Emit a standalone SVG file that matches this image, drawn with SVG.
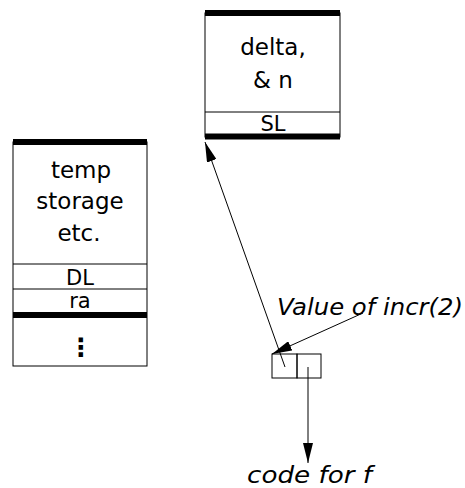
<svg xmlns="http://www.w3.org/2000/svg" width="465" height="488" viewBox="0 0 465 488">
<style>
.t{font-family:"DejaVu Sans","Liberation Sans",sans-serif;font-size:23px;fill:#000;text-anchor:middle}
.s{font-size:21px}
.i{font-family:"DejaVu Sans","Liberation Sans",sans-serif;font-style:italic;font-size:23px;fill:#000}
.thin{fill:none;stroke:#000;stroke-width:1}
.thick{fill:none;stroke:#000;stroke-width:6}
.c{fill:none;stroke:#000;stroke-width:1}
</style>
<defs>
<marker id="ah" viewBox="0 0 20 10" refX="20" refY="5" markerWidth="20" markerHeight="10" markerUnits="userSpaceOnUse" orient="auto">
<path d="M0,0 L20,5 L0,10 Z" fill="#000"/>
</marker>
</defs>
<g id="frame-delta">
<rect class="thin" x="205" y="13" width="135" height="124"/>
<line class="thick" x1="205" y1="13" x2="340" y2="13"/>
<line class="thin" x1="205" y1="112" x2="340" y2="112"/>
<line class="thick" x1="205" y1="136.5" x2="340" y2="136.5"/>
<text class="t" x="273" y="55">delta,</text>
<text class="t" x="273" y="88">&amp; n</text>
<text class="t s" x="273" y="131">SL</text>
</g>
<g id="frame-temp">
<rect class="thin" x="13" y="142" width="134" height="224"/>
<line class="thick" x1="13" y1="142" x2="147" y2="142"/>
<text class="t" x="81" y="178">temp</text>
<text class="t" x="80" y="209">storage</text>
<text class="t" x="79" y="241">etc.</text>
<line class="thin" x1="13" y1="264" x2="147" y2="264"/>
<text class="t s" x="80" y="285">DL</text>
<line class="thin" x1="13" y1="289" x2="147" y2="289"/>
<text class="t s" x="80" y="308">ra</text>
<line class="thick" x1="13" y1="315" x2="147" y2="315"/>
<text class="t" x="81" y="356" style="font-size:25px;font-weight:bold">⋮</text>
</g>
<g id="closure">
<rect class="thin" x="272" y="354" width="25" height="24"/>
<rect class="thin" x="297" y="354" width="24" height="24"/>
</g>
<g id="labels">
<text class="i" x="277" y="315" textLength="186" lengthAdjust="spacingAndGlyphs">Value of incr(2)</text>
<text class="i" x="247" y="483" textLength="125" lengthAdjust="spacingAndGlyphs">code for f</text>
</g>
<g id="connectors">
<line class="c" x1="285" y1="367" x2="205" y2="142" marker-end="url(#ah)"/>
<line class="c" x1="363" y1="313" x2="272" y2="354" marker-end="url(#ah)"/>
<line class="c" x1="308" y1="367" x2="308" y2="463" marker-end="url(#ah)"/>
</g>
</svg>
